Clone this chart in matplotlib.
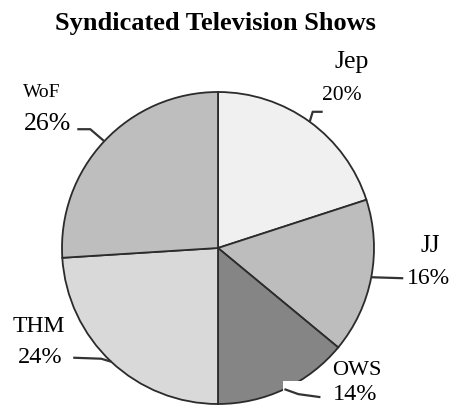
import numpy as np
import matplotlib.pyplot as plt
from matplotlib.patches import Rectangle

plt.rcParams['font.family'] = ['Liberation Serif', 'DejaVu Serif']

# data
shows = ['Jep', 'JJ', 'OWS', 'THM', 'WoF']
shares = [20, 16, 14, 24, 26]  # [%]
colors = ['#f0f0f0', '#bdbdbd', '#858585', '#d9d9d9', '#bebebe']

W, H = 452, 406
cx, cy, rad = 218, H - 249, 156

fig = plt.figure(figsize=(W/100, H/100), dpi=100)
ax = fig.add_axes([0, 0, 1, 1])

wedges, _ = ax.pie(shares, colors=colors, startangle=90, counterclock=False,
                   center=(cx, cy), radius=rad, frame=True,
                   wedgeprops=dict(edgecolor='#2b2b2b', linewidth=1.3))
ax.set_xlim(0, W)
ax.set_ylim(0, H)
ax.axis('off')

# label layout (top-origin pixel positions of text baselines), font sizes
name_pos = {'Jep': (352, 68, 18.5), 'JJ': (430, 252, 18), 'OWS': (357, 375, 16),
            'THM': (39, 332, 17), 'WoF': (42, 97, 14)}
pct_pos = {'Jep': (342, 100, 15.5), 'JJ': (428, 284, 17), 'OWS': (355, 400, 17.5),
           'THM': (40, 363, 17.5), 'WoF': (48, 130, 18.5)}
# leader line shapes, offsets from the slice's edge point (y up)
leaders = {'Jep': [(0, 0), (3, 10), (13, 10)],
           'JJ': [(0, 0), (32, -1)],
           'OWS': [(0, 0), (14, -5), (36, -8)],
           'THM': [(0, 0), (-10, 3), (-38, 4)],
           'WoF': [(0, 0), (-14, 12), (-27, 12)]}

# white patch hiding the pie edge near the OWS value
ax.add_patch(Rectangle((283, 0), 60, H - 382, facecolor='white',
                       edgecolor='none', zorder=3))

for w, name, val in zip(wedges, shows, shares):
    mid = np.deg2rad((w.theta1 + w.theta2)/2)
    ex, ey = cx + rad*np.cos(mid), cy + rad*np.sin(mid)
    pts = np.array(leaders[name]) + [ex, ey]
    ax.plot(pts[:, 0], pts[:, 1], color='#333333', lw=1.6, zorder=4,
            solid_capstyle='butt')
    x, y, fs = name_pos[name]
    ax.text(x, H - y, name, ha='center', va='baseline', fontsize=fs, zorder=5)
    x, y, fs = pct_pos[name]
    ax.text(x, H - y, f'{val}%', ha='center', va='baseline', fontsize=fs, zorder=5)

ax.text(215, H - 30, 'Syndicated Television Shows', ha='center', va='baseline',
        fontsize=19, fontweight='bold')

fig.savefig('out.png', dpi=100)
